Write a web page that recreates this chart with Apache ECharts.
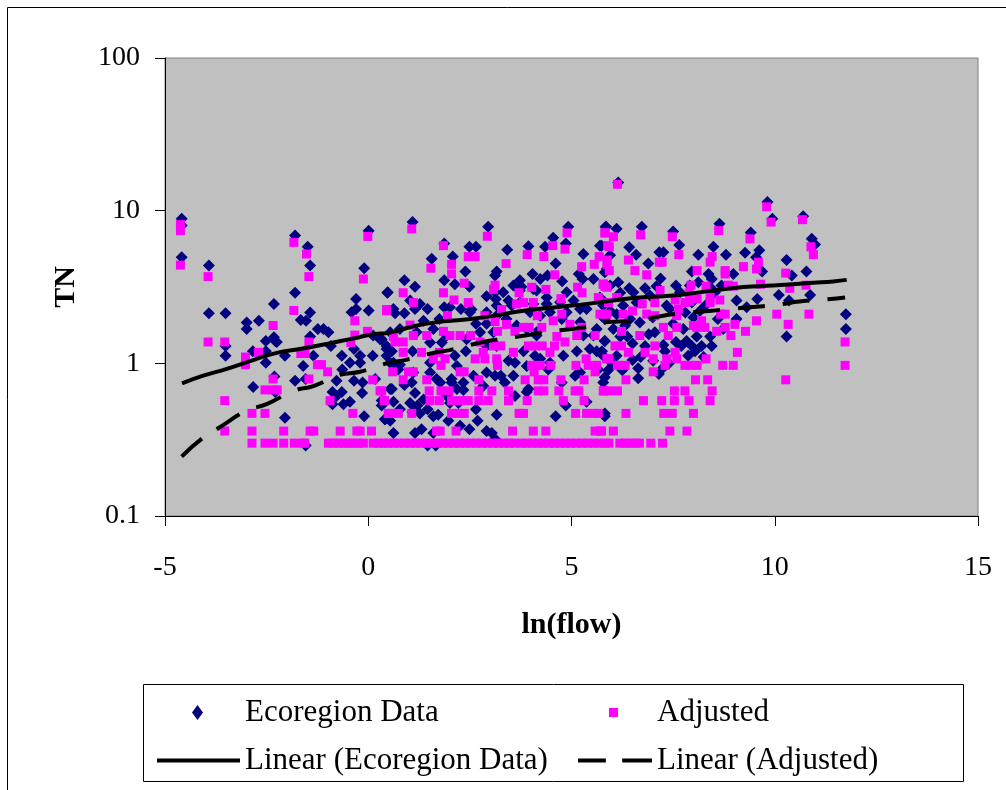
<!DOCTYPE html>
<html>
<head>
<meta charset="utf-8">
<style>
  html, body { margin: 0; padding: 0; background: #fff; }
  #main { width: 1006px; height: 790px; }
</style>
<script src="https://cdn.jsdelivr.net/npm/echarts@6/dist/echarts.min.js"></script>
</head>
<body>
<div id="main"></div>
<script>
// [ln(flow), TN]
const ecoregionData = [
  [-4.59,8.86],[-4.59,8.0],[-4.59,4.95],[-3.92,4.37],[-3.92,2.13],[-3.51,2.13],[-3.51,1.3],[-3.51,1.12],[-2.99,1.85],[-2.99,1.68],[-2.69,1.9],[-2.32,2.45],[-2.84,1.2],[-2.52,1.4],[-2.32,1.48],[-2.25,1.38],[-2.29,1.4],[-2.52,1.2],[-2.52,1.01],[-2.05,1.12],[-1.8,2.9],[-1.8,6.88],[-1.49,5.8],[-1.43,4.37],[-1.66,1.92],[-1.53,1.9],[-1.43,2.15],[-1.43,1.5],[-1.35,1.12],[-1.6,0.96],[-1.8,0.77],[-2.31,0.82],[-2.83,0.7],[-2.29,0.65],[-2.05,0.44],[-1.54,0.79],[-1.54,0.29],[-1.24,1.68],[-1.1,1.68],[-0.98,1.6],[-0.92,1.3],[-0.65,1.12],[-0.45,1.01],[-0.64,0.91],[-0.78,0.77],[-0.35,0.77],[-0.14,0.75],[-0.15,0.64],[-0.88,0.65],[-0.65,0.65],[-0.78,0.61],[-0.88,0.54],[-0.61,0.54],[-0.45,0.56],[-0.1,0.45],[-0.35,1.24],[-0.2,1.12],[-0.2,1.01],[0.11,1.12],[0.17,0.79],[-0.3,2.64],[-0.41,2.16],[-0.3,2.27],[0.01,2.22],[0.01,7.4],[-0.1,4.2],[0.47,2.9],[0.12,1.52],[0.29,1.44],[0.45,1.24],[0.54,1.01],[0.33,0.57],[0.33,0.53],[0.41,0.43],[0.54,0.68],[0.54,0.42],
  [1.09,8.42],[2.95,7.85],[1.87,6.1],[1.56,4.84],[2.08,5.0],[2.49,5.8],[2.65,5.8],[3.42,5.55],[3.94,5.85],[4.35,5.8],[4.55,6.65],[4.92,7.85],[4.86,6.1],[5.85,7.85],[5.7,5.9],[5.29,5.2],[4.61,4.5],[2.39,4.0],[3.16,4.0],[3.12,3.76],[4.04,3.85],[4.41,3.76],[5.18,3.85],[5.27,3.57],[4.77,3.45],[0.89,3.5],[1.15,3.17],[0.48,2.92],[1.87,3.5],[2.13,3.3],[2.49,3.17],[2.91,2.75],[3.14,2.64],[3.32,2.92],[3.45,2.58],[3.73,3.5],[3.77,3.17],[4.14,3.0],[4.39,2.7],[4.88,2.92],[5.05,2.58],[5.21,2.27],[0.62,2.27],[0.66,2.13],[1.03,2.58],[1.27,2.45],[1.15,2.27],[1.46,2.27],[0.89,2.13],[1.36,1.9],[1.87,2.33],[2.01,2.33],[2.28,2.27],[2.54,2.25],[1.75,1.95],[2.65,1.82],[2.91,1.82],[3.16,2.05],[3.73,2.5],[3.9,1.68],[4.14,1.6],[4.76,1.95],[0.33,1.44],[0.45,1.3],[0.58,1.2],[1.09,1.2],[1.52,1.37],[1.81,1.37],[2.13,1.12],[2.4,1.2],[2.91,1.3],[3.16,1.3],[3.45,1.04],[3.61,1.01],[3.82,1.2],[4.1,1.12],[5.13,1.2],[5.62,1.2],[5.78,1.12],[5.82,1.4],[0.62,1.01],[0.78,0.98],[1.52,0.87],[2.05,0.79],[1.77,0.75],[2.91,0.87],[3.12,0.83],[3.26,0.83],[3.61,0.61],[3.94,0.68],[3.9,0.65],[0.58,0.68],[0.89,0.72],[1.15,0.64],[0.62,0.56],[1.21,0.53],[1.46,0.5],[1.27,0.47],[1.09,0.48],[0.41,0.43],[1.6,0.45],[1.97,0.42],[2.65,0.5],[3.16,0.46],[2.69,0.42],[4.61,0.45],[0.62,0.35],[1.15,0.35],[1.31,0.37],[1.6,0.35],[2.26,0.39],[2.49,0.37],[2.91,0.36],[3.04,0.35],[3.12,0.32],[1.46,0.29],[1.66,0.29],[4.86,0.53],[5.09,0.83],[5.21,0.87],[4.76,0.75],[2.34,0.67],[2.18,0.68],[1.93,0.61],[5.82,0.47],[5.37,0.56],[4.43,0.91],[4.14,1.52],[3.53,2.39],[3.12,2.92],[5.62,1.68],[5.37,2.27],[5.87,4.16],[5.54,3.57],[5.87,3.23],[5.7,2.7],[4.72,2.51],[4.39,2.45],[4.06,2.45],
  [1.52,1.01],[2.18,0.96],[2.05,0.75],[1.11,0.87],[0.45,1.12],[0.74,0.91],[1.07,0.75],[1.68,0.79],[1.36,0.58],[0.78,0.5],[1.03,0.55],[2.22,0.55],[1.72,0.46],[2.01,0.55],[2.34,0.75],[2.59,0.83],[2.83,0.71],[3.36,0.75],[3.57,0.83],[3.9,0.96],[4.23,1.07],[4.47,1.01],[4.8,1.12],[5.29,1.52],[5.45,1.24],[5.66,0.91],[5.78,0.75],[1.93,1.52],[2.42,1.44],[2.75,1.6],[3.08,1.6],[3.4,1.95],[3.65,1.77],[3.98,2.16],[4.23,2.05],[4.47,2.16],[4.88,2.16],[5.21,1.86],[5.54,1.52],[5.74,2.05],[5.82,2.51],[4.06,3.07],[4.23,3.57],[3.73,3.0],[3.57,3.23],[3.16,2.39],[2.91,2.16],[2.5,2.16],[1.6,1.68],[1.19,1.6],[0.78,1.68],[0.54,1.6],
  [6.15,15.3],[9.82,11.4],[9.94,8.86],[10.7,9.2],[5.84,7.85],[6.11,7.6],[6.73,7.85],[7.5,7.3],[8.64,8.2],[9.41,7.2],[10.91,6.55],[10.99,6.0],[6.42,5.75],[6.59,5.15],[7.16,5.35],[7.26,5.35],[7.65,5.95],[8.12,5.15],[8.49,5.8],[8.8,5.15],[9.27,5.3],[9.62,5.5],[9.54,4.95],[9.69,4.0],[10.29,4.75],[10.42,3.76],[10.78,4.0],[6.89,4.5],[7.19,3.6],[7.57,3.23],[7.96,4.0],[8.12,3.4],[8.37,3.85],[8.45,3.57],[8.69,3.23],[8.98,3.85],[6.15,3.4],[6.42,3.1],[6.52,2.92],[6.81,3.1],[7.09,3.2],[6.93,2.78],[7.67,2.92],[7.91,3.23],[8.41,3.15],[8.53,2.92],[9.06,2.58],[9.57,2.64],[10.1,2.8],[10.35,2.58],[10.87,2.8],[9.31,2.33],[7.34,2.39],[7.42,2.27],[6.27,2.39],[9.06,1.95],[6.44,1.95],[6.11,2.1],[6.32,1.77],[6.81,1.3],[7.05,1.6],[7.75,1.68],[8.08,1.5],[8.41,1.5],[8.45,1.3],[7.83,1.4],[7.96,1.3],[8.04,1.2],[7.87,1.12],[7.57,1.38],[7.26,1.32],[7.3,1.2],[5.82,1.4],[6.11,1.12],[6.37,1.5],[6.64,0.93],[6.64,0.8],[7.26,0.94],[7.01,1.04],[5.82,0.81],[5.82,0.45],[10.29,1.5],[11.75,2.1],[11.75,1.68],[5.74,5.9],[5.95,5.1],[5.82,3.95],[5.95,3.23],[5.78,2.39],[5.82,1.95],[6.03,1.68],[6.68,1.85],[7.5,1.82],[8.16,2.2],[8.73,1.68],[7.96,2.5],
  [5.95,2.2],[6.2,2.9],[6.6,2.5],[6.2,1.5],[6.5,1.35],[6.0,1.0],[5.9,0.9],[6.5,1.05],[6.9,1.55],[7.0,2.0],[7.8,2.15],[8.3,2.4],[8.0,2.0],[8.6,1.95],[8.2,1.3],[5.75,1.2],[6.25,0.9],[6.7,1.1],[7.15,0.85],[7.4,1.0],[7.7,1.3],[8.25,1.1]
];

const adjustedData = [
  [-4.62,8.1],[-4.62,7.4],[-4.62,4.4],[-3.94,3.7],[-3.94,1.38],[-3.53,1.38],[-3.53,0.57],[-3.53,0.36],[-3.02,1.1],[-3.02,0.98],[-2.7,1.18],[-2.34,1.77],[-2.34,0.79],[-2.54,0.67],[-2.34,0.67],[-2.24,0.67],[-2.86,0.47],[-2.54,0.47],[-2.86,0.36],[-2.08,0.36],[-1.43,0.36],[-1.34,0.36],[-1.83,6.2],[-1.52,5.2],[-1.46,3.7],[-1.83,2.22],[-1.46,1.38],[-1.66,1.16],[-1.56,1.16],[-1.46,0.79],[-1.25,0.98],[-1.15,0.98],[-1.0,0.88],[-0.94,0.57],[-0.38,0.47],[-0.69,0.36],[-0.28,0.36],[-0.2,0.36],[0.08,0.36],[-0.01,6.78],[-0.12,3.57],[-0.33,1.9],[-0.33,1.53],[-0.43,1.37],[-0.02,1.62],[0.45,2.21],[0.11,0.78],[0.29,0.66],[0.4,0.57],[0.49,0.47],
  [1.07,7.6],[2.93,6.8],[1.85,5.9],[1.54,4.2],[2.05,4.45],[2.05,3.85],[2.46,5.0],[2.63,5.0],[3.39,4.5],[3.91,5.15],[4.32,5.0],[4.54,5.9],[4.89,7.15],[4.84,5.6],[5.83,7.15],[5.89,5.9],[5.68,5.0],[5.87,4.45],[5.25,4.3],[5.56,4.45],[4.59,3.8],[2.36,3.35],[3.12,3.25],[3.08,3.05],[1.85,2.9],[0.86,2.9],[1.11,2.5],[0.45,2.25],[2.11,2.6],[2.46,2.5],[1.95,2.05],[2.87,2.05],[3.28,2.25],[3.71,2.9],[3.65,2.45],[3.82,2.5],[4.02,3.15],[4.06,2.5],[4.37,3.05],[4.74,2.65],[5.15,3.15],[5.26,2.9],[5.66,2.7],[5.78,3.3],[5.87,3.15],[5.7,2.1],[5.87,2.1],[4.76,2.1],[4.55,1.9],[4.16,2.05],[3.4,1.8],[3.12,1.88],[1.03,1.78],[0.62,1.5],[0.66,1.38],[0.86,1.38],[1.11,1.52],[1.44,1.52],[1.85,1.62],[2.01,1.52],[2.26,1.52],[2.52,1.52],[2.75,1.38],[3.18,1.62],[3.61,1.62],[3.82,1.72],[3.96,1.72],[4.27,1.72],[4.96,1.8],[5.25,1.72],[5.58,1.52],[5.13,1.52],[4.64,1.5],[4.84,1.38],[4.47,1.18],[4.58,1.3],[3.94,1.3],[4.1,1.3],[4.28,1.3],[3.08,1.3],[3.26,1.3],[3.57,1.18],[2.83,1.18],[0.86,1.18],[1.31,1.18],[1.75,1.18],[2.63,1.07],[2.87,1.07],[3.16,1.07],[3.18,0.97],[1.6,1.07],[1.89,1.07],[1.79,0.97],[0.6,0.88],[0.99,0.88],[1.11,0.88],[2.26,0.88],[2.36,0.88],[4.02,0.97],[4.23,0.97],[4.49,0.97],[5.11,0.97],[5.36,1.07],[5.41,0.97],[5.62,0.97],[5.58,0.88],[5.87,1.07],[4.08,0.88],[0.86,0.78],[1.44,0.78],[2.72,0.78],[3.86,0.78],[4.18,0.78],[4.32,0.78],[4.74,0.78],[5.31,0.78],[1.5,0.66],[1.79,0.66],[1.99,0.66],[2.72,0.66],[3.04,0.66],[3.45,0.66],[4.18,0.66],[4.32,0.66],[4.69,0.66],[5.09,0.66],[5.18,0.66],[5.78,0.66],[5.91,0.66],[0.33,0.66],[0.39,0.57],[1.52,0.57],[1.75,0.57],[2.05,0.57],[2.26,0.57],[2.46,0.57],[2.72,0.57],[2.95,0.57],[3.45,0.57],[3.91,0.57],[4.8,0.57],[5.31,0.57],[0.54,0.47],[0.74,0.47],[1.07,0.47],[2.05,0.47],[2.22,0.47],[2.36,0.47],[3.71,0.47],[3.82,0.47],[5.1,0.47],[5.37,0.47],[5.54,0.47],[5.66,0.47],[1.68,0.36],[1.77,0.36],[2.16,0.36],[3.55,0.36],[4.06,0.36],[4.37,0.36],[5.58,0.36],[5.72,0.36],
  [6.13,14.9],[9.8,10.6],[9.91,8.42],[10.68,8.73],[5.82,7.15],[6.03,6.75],[6.7,6.95],[7.48,6.75],[8.62,7.4],[9.39,6.54],[10.89,5.8],[10.95,5.15],[6.4,4.75],[6.56,4.05],[7.16,4.6],[7.23,4.6],[7.64,5.15],[8.09,4.05],[8.46,5.0],[8.41,4.6],[8.78,4.05],[8.78,3.85],[9.23,4.3],[9.6,4.6],[9.55,4.15],[10.27,3.9],[10.37,3.1],[10.77,3.25],[6.85,3.8],[7.18,3.0],[7.94,3.25],[8.31,3.2],[8.86,3.25],[8.98,3.2],[9.65,3.3],[10.05,2.1],[10.84,2.1],[10.33,1.8],[9.55,1.9],[9.28,1.62],[9.02,1.8],[8.92,1.52],[8.78,1.72],[8.57,1.62],[8.78,2.1],[8.67,2.1],[8.65,2.6],[8.41,2.7],[8.41,2.5],[8.09,2.65],[7.9,2.9],[7.91,2.55],[7.79,2.5],[7.55,2.6],[7.63,2.27],[7.59,2.05],[7.59,1.72],[7.38,1.52],[7.26,1.72],[7.05,2.5],[6.74,2.45],[6.5,2.2],[6.27,2.1],[6.85,2.1],[7.05,2.05],[5.8,2.1],[6.11,2.7],[5.78,3.3],[5.91,2.5],[5.82,3.2],[5.93,5.8],[5.88,4.75],[5.93,4.05],[8.2,1.9],[8.0,1.77],[8.28,1.72],[8.08,1.72],[6.68,1.52],[6.23,1.62],[6.07,1.3],[6.23,1.3],[7.05,1.3],[6.81,1.18],[6.4,1.18],[5.92,1.07],[7.01,1.07],[7.34,1.07],[7.55,1.18],[7.59,1.07],[7.3,0.97],[6.13,0.97],[6.32,0.97],[7.79,0.97],[7.91,0.97],[8.09,0.97],[8.31,1.07],[9.08,1.18],[8.72,0.97],[8.98,0.97],[7.01,0.88],[6.34,0.78],[8.05,0.78],[8.35,0.78],[10.27,0.78],[5.8,0.66],[6.13,0.66],[7.53,0.66],[7.79,0.66],[8.46,0.66],[6.77,0.57],[7.22,0.57],[7.53,0.57],[7.89,0.57],[8.41,0.57],[6.34,0.47],[7.27,0.47],[7.48,0.47],[8.0,0.47],[5.74,0.36],[6.03,0.36],[7.42,0.36],[7.84,0.36],[11.73,1.38],[11.73,0.97]
];

// the adjusted values that sit on the 0.3 floor
const adjustedFloorFlow = [-2.86,-2.54,-2.34,-2.08,-1.82,-1.61,-1.56,-0.98,-0.86,-0.74,-0.61,-0.49,-0.37,-0.25,-0.12,0.12,0.25,0.37,0.49,0.62,0.76,0.89,1.03,1.16,1.3,1.42,1.57,1.7,1.84,1.97,2.11,2.25,2.38,2.52,2.66,2.79,2.93,3.07,3.2,3.34,3.46,3.6,3.77,3.9,4.03,4.17,4.3,4.44,4.58,4.71,4.85,4.98,5.12,5.26,5.4,5.53,5.67,5.82,5.92,6.19,6.32,6.44,6.56,6.67,6.95,7.24];
const adjustedFloor = 0.3;

// trend lines, as drawn in the picture
const ecoregionTrend = [[-4.58,0.74],[-4.06,0.83],[-3.48,0.92],[-2.83,1.05],[-2.25,1.17],[-1.68,1.24],[-1.02,1.34],[-0.45,1.44],[0.12,1.55],[0.54,1.59],[1.11,1.75],[1.68,1.86],[2.34,1.93],[3.0,2.03],[3.82,2.21],[4.63,2.33],[5.54,2.48],[6.52,2.68],[7.5,2.78],[8.32,2.96],[9.23,3.16],[9.96,3.23],[10.95,3.37],[11.44,3.44],[11.77,3.52]];
const adjustedTrend = [[-4.59,0.245],[-4.1,0.32],[-3.66,0.38],[-2.99,0.49],[-2.5,0.54],[-1.84,0.66],[-1.35,0.71],[-0.7,0.84],[-0.2,0.88],[0.45,1.0],[0.9,1.05],[1.6,1.17],[2.0,1.22],[2.71,1.36],[3.16,1.43],[3.86,1.52],[4.31,1.6],[5.0,1.68],[5.46,1.75],[5.7,1.83],[6.15,1.88],[6.56,1.9],[7.26,2.05],[7.75,2.13],[8.45,2.21],[8.86,2.27],[9.55,2.35],[10.0,2.41],[10.66,2.55],[11.11,2.6],[11.73,2.7]];

const xTicks = { min: -5, max: 15, interval: 5 };
const yTicks = { min: 0.1, max: 100 };

const serif = '"Liberation Serif", "Times New Roman", serif';
const legendText = { fontFamily: serif, fontSize: 31, color: '#000' };

var myChart = echarts.init(document.getElementById('main'));

var option = {
    backgroundColor: '#fff',
    animation: false,
    grid: {
        left: 165,
        top: 58,
        right: 28,
        bottom: 274,
        show: true,
        backgroundColor: '#C0C0C0',
        borderColor: '#808080',
        borderWidth: 1
    },
    xAxis: {
        type: 'value',
        min: xTicks.min,
        max: xTicks.max,
        interval: xTicks.interval,
        name: 'ln(flow)',
        nameLocation: 'middle',
        nameGap: 94,
        nameTextStyle: { fontFamily: serif, fontSize: 30, fontWeight: 'bold', color: '#000' },
        axisLine: { onZero: false, lineStyle: { color: '#000', width: 1 } },
        axisTick: { length: 10, lineStyle: { color: '#000' } },
        axisLabel: { fontFamily: serif, fontSize: 28, color: '#000', margin: 38 },
        splitLine: { show: false }
    },
    yAxis: {
        type: 'log',
        logBase: 10,
        min: yTicks.min,
        max: yTicks.max,
        name: 'TN',
        nameLocation: 'middle',
        nameGap: 84,
        nameTextStyle: { fontFamily: serif, fontSize: 30, fontWeight: 'bold', color: '#000' },
        axisLine: { onZero: false, lineStyle: { color: '#000', width: 1 } },
        axisTick: { length: 10, lineStyle: { color: '#000' } },
        axisLabel: { fontFamily: serif, fontSize: 28, color: '#000', margin: 25, padding: [10, 0, 0, 0] },
        splitLine: { show: false }
    },
    legend: [{
        left: 192,
        top: 697,
        padding: 0,
        itemWidth: 11,
        itemHeight: 15,
        textStyle: Object.assign({ padding: [0, 0, 0, 37] }, legendText),
        data: [{ name: 'Ecoregion Data', icon: 'diamond' }]
    }, {
        left: 609,
        top: 697,
        padding: 0,
        itemWidth: 9,
        itemHeight: 9,
        textStyle: Object.assign({ padding: [0, 0, 0, 34] }, legendText),
        data: [{ name: 'Adjusted', icon: 'rect' }]
    }, {
        left: 157,
        top: 745,
        padding: 0,
        itemWidth: 83,
        itemHeight: 4,
        textStyle: legendText,
        data: [{ name: 'Linear (Ecoregion Data)', icon: 'rect' }]
    }, {
        left: 578,
        top: 745,
        padding: 0,
        itemWidth: 74,
        itemHeight: 4,
        textStyle: legendText,
        data: [{ name: 'Linear (Adjusted)', icon: 'path://M0,0h29v4h-29z M46,0h31v4h-31z' }]
    }],
    graphic: [{
        // outer chart frame, runs off the right and bottom of the picture
        type: 'rect',
        z: -1,
        shape: { x: 7.5, y: 7.5, width: 1100, height: 900 },
        style: { fill: 'none', stroke: '#000', lineWidth: 1 }
    }, {
        // legend frame
        type: 'rect',
        z: -1,
        shape: { x: 143.5, y: 684.5, width: 820, height: 97 },
        style: { fill: '#fff', stroke: '#000', lineWidth: 1 }
    }],
    series: [{
        name: 'Ecoregion Data',
        type: 'scatter',
        symbol: 'diamond',
        symbolSize: 12,
        itemStyle: { color: '#000080', opacity: 1 },
        data: ecoregionData
    }, {
        name: 'Adjusted',
        type: 'scatter',
        symbol: 'rect',
        symbolSize: 9,
        itemStyle: { color: '#FF00FF', opacity: 1 },
        data: adjustedData.concat(adjustedFloorFlow.map(x => [x, adjustedFloor]))
    }, {
        name: 'Linear (Ecoregion Data)',
        type: 'line',
        smooth: true,
        symbol: 'none',
        itemStyle: { color: '#000' },
        lineStyle: { color: '#000', width: 4 },
        data: ecoregionTrend
    }, {
        name: 'Linear (Adjusted)',
        type: 'line',
        smooth: true,
        symbol: 'none',
        itemStyle: { color: '#000' },
        lineStyle: { color: '#000', width: 4, type: [27, 18] },
        data: adjustedTrend
    }]
};
myChart.setOption(option);
</script>
</body>
</html>
